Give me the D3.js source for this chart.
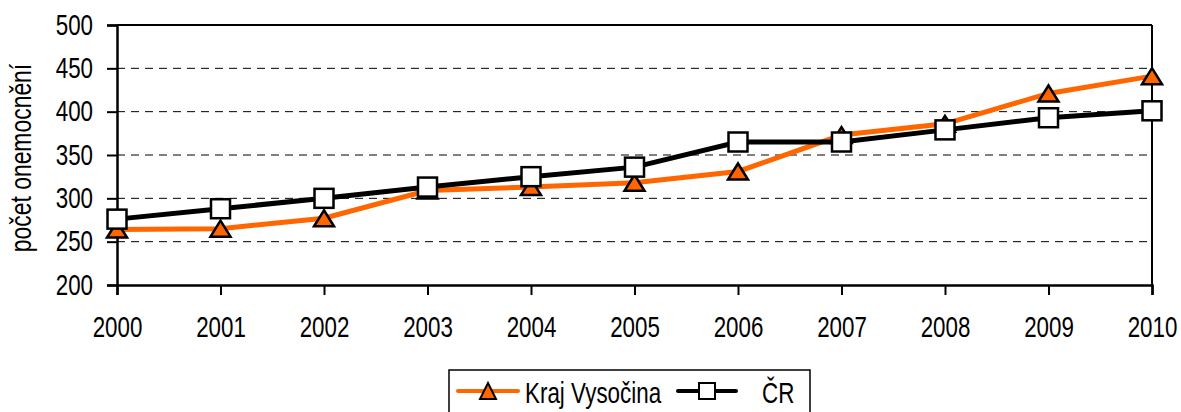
<!DOCTYPE html>
<html>
<head>
<meta charset="utf-8">
<script src="https://cdn.jsdelivr.net/npm/d3@7"></script>
<style>
  body { margin: 0; background: #fff; }
  svg { display: block; font-family: "Liberation Sans", Arial, sans-serif; }
</style>
</head>
<body>
<svg id="chart" width="1181" height="412"></svg>
<script>
var years = ["2000", "2001", "2002", "2003", "2004", "2005", "2006", "2007", "2008", "2009", "2010"]
var krajVysocina = [264, 265, 277, 309, 313, 318, 331, 373, 386, 421, 441]
var cr = [276, 288, 300, 313, 325, 336, 365, 365, 379, 393, 401]
var yTicks = [200, 250, 300, 350, 400, 450, 500]

var svg = d3.select('#chart')
var plotLeft = 117, plotRight = 1152, plotTop = 25, plotBottom = 285
// the text in the picture is tall and narrow
var squeeze = 0.77
var fontSize = 29

var x = d3.scalePoint().domain(years).range([plotLeft, plotRight])
var y = d3.scaleLinear().domain([200, 500]).range([plotBottom, plotTop])

// dashed gridlines
svg.append('g')
    .selectAll('line')
    .data(yTicks.filter(d => d > 200 && d < 500))
    .enter()
    .append('line')
    .attr('x1', plotLeft).attr('x2', plotRight)
    .attr('y1', d => y(d)).attr('y2', d => y(d))
    .attr('stroke', '#000')
    .attr('stroke-width', 1)
    .attr('stroke-dasharray', '8,6')

// top and right frame
svg.append('line').attr('x1', plotLeft).attr('x2', plotRight).attr('y1', plotTop).attr('y2', plotTop)
    .attr('stroke', '#000').attr('stroke-width', 2)
svg.append('line').attr('x1', plotRight).attr('x2', plotRight).attr('y1', plotTop).attr('y2', plotBottom)
    .attr('stroke', '#000').attr('stroke-width', 2)

// y axis
var yAxis = svg.append('g')
    .attr('transform', `translate(${plotLeft},0)`)
    .call(d3.axisLeft(y).tickValues(yTicks).tickSize(10).tickPadding(14))
yAxis.select('.domain').attr('stroke-width', 2.5)
yAxis.selectAll('.tick line').attr('stroke-width', 2)
yAxis.selectAll('text')
    .attr('font-size', fontSize).attr('fill', '#000')
    .attr('font-family', '"Liberation Sans", Arial, sans-serif')
    .attr('x', -24 / squeeze)
    .attr('transform', `scale(${squeeze},1)`)

// x axis
var xAxis = svg.append('g')
    .attr('transform', `translate(0,${plotBottom})`)
    .call(d3.axisBottom(x).tickSize(10).tickPadding(21))
xAxis.select('.domain').attr('stroke-width', 2.5)
xAxis.selectAll('.tick line').attr('stroke-width', 2)
xAxis.selectAll('text')
    .attr('font-size', fontSize).attr('fill', '#000')
    .attr('font-family', '"Liberation Sans", Arial, sans-serif')
    .attr('transform', `scale(${squeeze},1)`)

// y label
svg.append('text')
    .attr('transform', `translate(31,${(plotTop + plotBottom) / 2 + 3}) rotate(-90) scale(0.79,1)`)
    .attr('text-anchor', 'middle')
    .attr('font-size', fontSize)
    .text('počet onemocnění')

var line = d3.line().x((d, i) => x(years[i])).y(d => y(d))

// triangle a bit wider than tall, centred on its box
function triangle(w, h) {
    var p = d3.path()
    p.moveTo(0, -h / 2)
    p.lineTo(w / 2, h / 2)
    p.lineTo(-w / 2, h / 2)
    p.closePath()
    return p.toString()
}

// Kraj Vysočina
svg.append('path').datum(krajVysocina)
    .attr('d', line)
    .attr('fill', 'none').attr('stroke', '#FF6600').attr('stroke-width', 5)
svg.append('g').selectAll('path')
    .data(krajVysocina)
    .enter()
    .append('path')
    .attr('d', triangle(20, 16))
    .attr('transform', (d, i) => `translate(${x(years[i])},${y(d)})`)
    .attr('fill', '#FF6600').attr('stroke', '#000').attr('stroke-width', 2.5)
    .attr('stroke-linejoin', 'miter')

// ČR
svg.append('path').datum(cr)
    .attr('d', line)
    .attr('fill', 'none').attr('stroke', '#000').attr('stroke-width', 5)
svg.append('g').selectAll('rect')
    .data(cr)
    .enter()
    .append('rect')
    .attr('x', (d, i) => x(years[i]) - 9.5)
    .attr('y', d => y(d) - 9.5)
    .attr('width', 19).attr('height', 19)
    .attr('fill', '#fff').attr('stroke', '#000').attr('stroke-width', 2.5)

// legend
var legend = svg.append('g')
legend.append('rect').attr('x', 449).attr('y', 370).attr('width', 361).attr('height', 50)
    .attr('fill', '#fff').attr('stroke', '#000').attr('stroke-width', 1.5)
legend.append('line').attr('x1', 458).attr('x2', 518).attr('y1', 391).attr('y2', 391)
    .attr('stroke', '#FF6600').attr('stroke-width', 4).attr('stroke-linecap', 'round')
legend.append('path').attr('d', triangle(16, 16))
    .attr('transform', 'translate(488,391)')
    .attr('fill', '#FF6600').attr('stroke', '#000').attr('stroke-width', 2)
legend.append('text').attr('x', 525 / 0.773).attr('y', 403)
    .attr('transform', 'scale(0.773,1)')
    .attr('font-size', fontSize).text('Kraj Vysočina')
legend.append('line').attr('x1', 678).attr('x2', 736).attr('y1', 391).attr('y2', 391)
    .attr('stroke', '#000').attr('stroke-width', 4).attr('stroke-linecap', 'round')
legend.append('rect').attr('x', 699).attr('y', 383).attr('width', 16).attr('height', 16)
    .attr('fill', '#fff').attr('stroke', '#000').attr('stroke-width', 2)
legend.append('text').attr('x', 762 / 0.773).attr('y', 403)
    .attr('transform', 'scale(0.773,1)')
    .attr('font-size', fontSize).text('ČR')
</script>
</body>
</html>
